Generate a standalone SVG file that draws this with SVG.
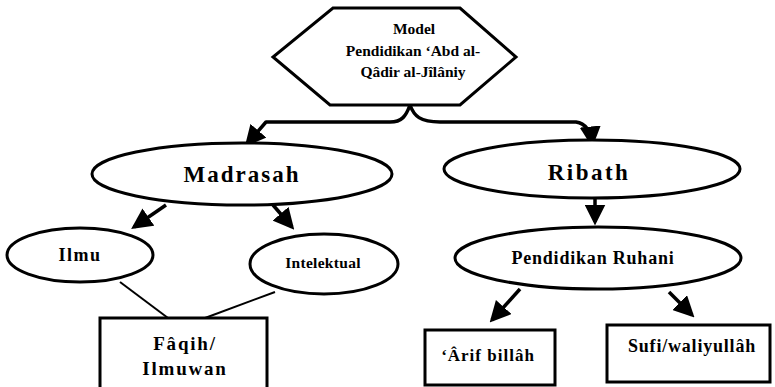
<svg xmlns="http://www.w3.org/2000/svg" width="775" height="387" viewBox="0 0 775 387" font-family="Liberation Serif, serif">
<style>
.s{fill:#fff;stroke:#000;stroke-width:3}
.c{fill:none;stroke:#000;stroke-width:3.5;stroke-linejoin:round}
.l{fill:none;stroke:#000;stroke-width:2}
.t{font-weight:bold;fill:#000;text-anchor:middle}
</style>
<defs>
<marker id="ah" markerWidth="6" markerHeight="6" refX="5" refY="3" orient="auto" markerUnits="strokeWidth">
<path d="M0,0 L6,3 L0,6 Z" fill="#000"/>
</marker>
</defs>
<rect width="775" height="387" fill="#fff"/>
<g id="connectors">
<path class="c" d="M410,105 C406,116 402,122 390,122 L266,122 L247,144" marker-end="url(#ah)"/>
<path class="c" d="M410,105 C414,116 420,122 440,122 L576,122 Q590,124 592,144" marker-end="url(#ah)"/>
<path class="c" d="M166,205 L134,227" marker-end="url(#ah)"/>
<path class="c" d="M273,205 L292,227" marker-end="url(#ah)"/>
<path class="c" d="M595,198 L595,222" marker-end="url(#ah)"/>
<path class="c" d="M520,289 L492,320" marker-end="url(#ah)"/>
<path class="c" d="M669,292 L692,315" marker-end="url(#ah)"/>
<path class="l" d="M120,282 L168,318"/>
<path class="l" d="M275,292 L205,318"/>
</g>
<g id="model">
<polygon class="s" points="333,8 460,8 516,57 460,105 330,105 273,57"/>
<text class="t" font-size="15.5"><tspan x="414" y="34">Model</tspan><tspan x="413" y="56">Pendidikan ‘Abd al-</tspan><tspan x="413" y="77">Qâdir al-Jîlâniy</tspan></text>
</g>
<g id="madrasah">
<ellipse class="s" cx="242" cy="174" rx="150" ry="31"/>
<text class="t" x="242" y="182" font-size="23" font-weight="normal" letter-spacing="2">Madrasah</text>
</g>
<g id="ribath">
<ellipse class="s" cx="592" cy="169" rx="148" ry="29"/>
<text class="t" x="589" y="180" font-size="23" font-weight="normal" letter-spacing="2.5">Ribath</text>
</g>
<g id="ilmu">
<ellipse class="s" cx="80" cy="255" rx="73" ry="27"/>
<text class="t" x="80" y="261" font-size="18" letter-spacing="1.5">Ilmu</text>
</g>
<g id="intelektual">
<ellipse class="s" cx="324" cy="264" rx="74" ry="30"/>
<text class="t" x="323" y="268" font-size="15.5" letter-spacing="0.3">Intelektual</text>
</g>
<g id="faqih">
<rect class="s" x="100" y="318" width="167" height="72"/>
<text class="t" font-size="19" letter-spacing="1.8"><tspan x="185" y="350">Fâqih/</tspan><tspan x="185" y="375">Ilmuwan</tspan></text>
</g>
<g id="pendidikan-ruhani">
<ellipse class="s" cx="598" cy="258" rx="143" ry="31"/>
<text class="t" x="593" y="264" font-size="18" letter-spacing="0.8">Pendidikan Ruhani</text>
</g>
<g id="arif">
<rect class="s" x="425" y="330" width="130" height="55"/>
<text class="t" x="488" y="361" font-size="17" letter-spacing="1">‘Ârif billâh</text>
</g>
<g id="sufi">
<rect class="s" x="607" y="325" width="163" height="57"/>
<text class="t" x="692" y="352" font-size="18" letter-spacing="0.8">Sufi/waliyullâh</text>
</g>
</svg>
